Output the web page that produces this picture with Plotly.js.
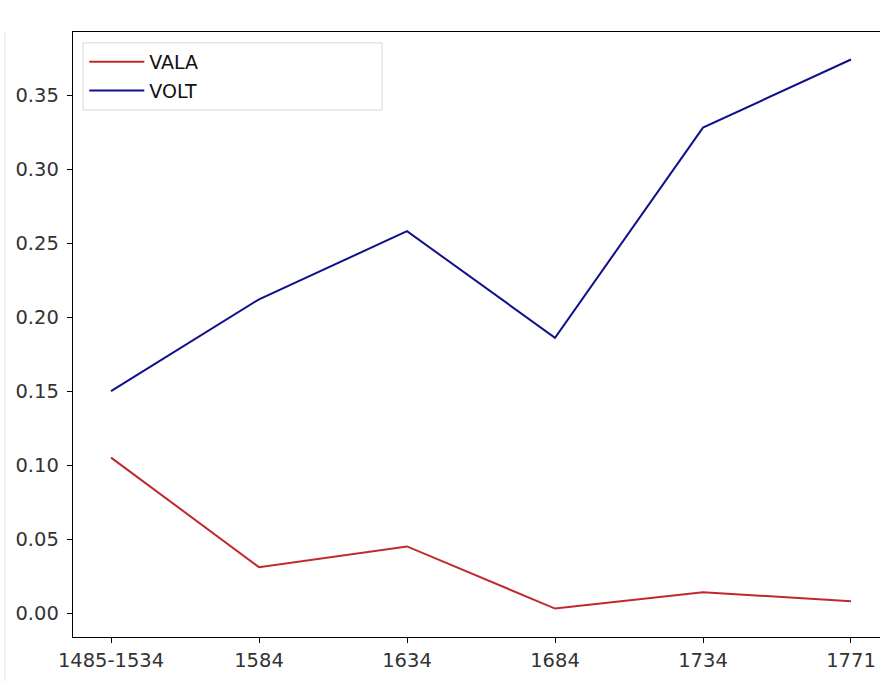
<!DOCTYPE html>
<html>
<head>
<meta charset="utf-8">
<script src="https://cdn.plot.ly/plotly-3.0.1.min.js"></script>
<style>html,body{margin:0;padding:0;background:#fff;}#chart{width:880px;height:681px;}</style>
</head>
<body>
<div id="chart"></div>
<script>
const categories = ["1485-1534", "1584", "1634", "1684", "1734", "1771"];
const vala = [0.105, 0.031, 0.045, 0.003, 0.014, 0.008];
const volt = [0.150, 0.212, 0.258, 0.186, 0.328, 0.374];
const yTicks = [0, 0.05, 0.10, 0.15, 0.20, 0.25, 0.30, 0.35];

const idx = categories.map((c, i) => i);

const traces = [
  {x: idx, y: vala, name: "VALA", type: "scatter", mode: "lines", legendgroup: "a",
   line: {color: "#c0282d", width: 2}},
  {x: idx, y: volt, name: "VOLT", type: "scatter", mode: "lines", legendgroup: "b",
   line: {color: "#10108a", width: 2}}
];

const tickFont = {family: "DejaVu Sans, sans-serif", size: 19.5, color: "#333"};

const layout = {
  width: 880, height: 681,
  margin: {l: 73, r: 0, t: 32, b: 44},
  paper_bgcolor: "#fff", plot_bgcolor: "#fff",
  font: {family: "DejaVu Sans, sans-serif", size: 18, color: "#222"},
  showlegend: true,
  legend: {x: 0.014, y: 0.982, xanchor: "left", yanchor: "top",
           bgcolor: "rgba(0,0,0,0)", borderwidth: 0,
           font: {size: 19, color: "#111"}, itemwidth: 55, tracegroupgap: 1},
  xaxis: {range: [-0.257, 5.196], tickmode: "array", tickvals: idx, ticktext: categories,
          tickfont: tickFont,
          showgrid: false, zeroline: false, showline: true, linecolor: "#000", linewidth: 1.3,
          mirror: true, ticks: "outside", ticklen: 5, tickcolor: "#000", fixedrange: true},
  yaxis: {range: [-0.0162, 0.3926], tickmode: "array", tickvals: yTicks,
          ticktext: yTicks.map(v => v.toFixed(2)), tickfont: tickFont, ticklabelstandoff: 4,
          showgrid: false, zeroline: false, showline: true, linecolor: "#000", linewidth: 1.3,
          ticks: "outside", ticklen: 5, tickcolor: "#000", fixedrange: true},
  shapes: [
    {type: "rect", xref: "paper", yref: "paper", x0: 0.0124, x1: 0.383, y0: 0.871, y1: 0.982,
     line: {color: "#d8d8d8", width: 1}, fillcolor: "rgba(255,255,255,0.85)", layer: "below"},
    {type: "line", xref: "paper", yref: "paper", x0: -0.0843, x1: -0.0843, y0: -0.073, y1: 1.0,
     line: {color: "#e2e2e2", width: 1}}
  ]
};

Plotly.newPlot("chart", traces, layout, {displayModeBar: false, staticPlot: true});
</script>
</body>
</html>
